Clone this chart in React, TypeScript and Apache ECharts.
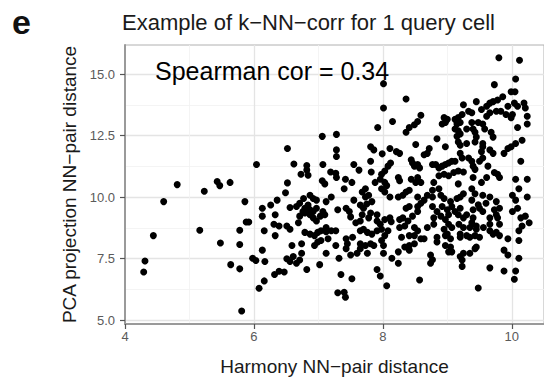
import React, { useEffect, useRef } from "react";
import * as echarts from "echarts";

const xTicks = [4, 6, 8, 10];
const xMinorGrid = [5, 7, 9];
const yTicks = [5, 7.5, 10, 12.5, 15];
const yMinorGrid = [6.25, 8.75, 11.25, 13.75];

const titleText = "Example of k\u2212NN\u2212corr for 1 query cell";
const xTitle = "Harmony NN\u2212pair distance";
const yTitle = "PCA projection NN\u2212pair distance";
const annotation = "Spearman cor = 0.34";

// [Harmony NN-pair distance, PCA projection NN-pair distance]
const pointsLeft: number[][] = [
  [4.81, 10.51], [4.6, 9.82], [4.44, 8.44], [4.31, 7.41], [4.29, 6.96], [5.23, 10.24], [5.43, 10.64],
  [5.47, 10.47], [5.63, 10.6], [5.86, 9.82], [5.16, 8.66], [5.48, 8.14], [5.78, 8.66], [5.88, 8.99],
  [5.92, 8.99], [5.78, 8.08], [5.64, 7.26], [5.78, 7.09], [5.98, 7.52], [5.81, 5.38],
];

const pointsMidUpper: number[][] = [
  [8.01, 14.61], [8.01, 13.62], [7.92, 12.83], [8.15, 13.07], [7.06, 12.47], [7.28, 12.55], [6.52, 11.98],
  [6.04, 11.33], [7.28, 11.92], [7.28, 11.65], [6.62, 11.35], [6.82, 11.29], [6.82, 11.1], [7.07, 11.33],
  [7.19, 11.02], [7.27, 10.97], [7.28, 10.8], [6.73, 10.93], [6.84, 10.89], [6.52, 10.58], [7.06, 10.67],
  [7.55, 11.33], [7.63, 11.1], [7.42, 10.73], [7.52, 10.6], [7.81, 12.05], [7.86, 11.92], [7.99, 11.76],
  [8.11, 11.98], [7.81, 11.46], [7.82, 11.02], [7.98, 10.93], [8.03, 11.06], [8.08, 11.26], [8.12, 11.39],
  [7.96, 10.73], [8.03, 10.6], [7.88, 10.6],
];

const pointsMidLower: number[][] = [
  [6.49, 10.18], [6.13, 9.55], [6.26, 9.68], [6.36, 9.88], [6.13, 9.23], [6.16, 8.64], [6.33, 9.29],
  [6.31, 8.9], [6.39, 8.83], [6.33, 8.44], [6.13, 7.85], [6.03, 7.43], [6.17, 7.39], [6.32, 6.86],
  [6.39, 6.99], [6.47, 6.96], [6.16, 6.6], [6.08, 6.3], [6.56, 9.58], [6.66, 9.62], [6.71, 9.75],
  [6.77, 9.95], [6.51, 8.83], [6.56, 8.7], [6.69, 8.96], [6.71, 9.23], [6.79, 9.36], [6.79, 9.55],
  [6.84, 9.68], [6.87, 9.49], [6.92, 9.95], [6.97, 9.88], [7.07, 9.42], [7.03, 9.23], [7.1, 9.29],
  [6.92, 9.16], [6.97, 9.03], [7.12, 9.82], [7.2, 10.01], [7.1, 10.54], [7.4, 10.34], [7.55, 9.88],
  [7.68, 10.21], [7.73, 10.01], [7.78, 10.08], [7.83, 9.82], [7.65, 9.68], [7.3, 9.49], [7.43, 9.55],
  [7.48, 9.42], [7.68, 9.29], [7.81, 9.36], [7.91, 9.29], [7.91, 9.03], [7.96, 8.9], [8.03, 9.09],
  [8.11, 9.16], [6.79, 8.57], [6.87, 8.5], [6.94, 8.44], [6.99, 8.57], [7.04, 8.64], [7.12, 8.77],
  [7.2, 8.64], [7.27, 8.64], [6.99, 8.18], [6.94, 8.04], [7.04, 8.24], [7.15, 8.31], [6.59, 8.04],
  [6.74, 8.11], [6.74, 7.72], [6.61, 7.59], [6.56, 7.39], [6.66, 7.32], [6.71, 7.45], [7.27, 8.04],
  [7.43, 8.31], [7.53, 8.37], [7.45, 8.11], [7.43, 7.91], [7.65, 8.11], [7.73, 8.04], [7.81, 8.11],
  [7.86, 8.04], [7.65, 7.91], [7.6, 7.72], [7.5, 7.65], [7.76, 7.72], [7.7, 8.7], [7.76, 8.57],
  [7.83, 8.5], [7.91, 8.64], [7.98, 8.7], [8.03, 8.44], [8.08, 8.64], [8.01, 8.04], [8.01, 7.72],
  [8.14, 7.52], [7.12, 7.72], [7.02, 7.26], [7.32, 7.52], [6.82, 7.06], [7.35, 6.86], [7.52, 6.69],
  [7.3, 6.12], [7.4, 6.14], [7.42, 5.94], [7.91, 7.06], [7.96, 6.8], [8.06, 6.4], [7.98, 10.34],
  [8.06, 10.47], [8.11, 10.01], [7.58, 8.96], [7.65, 9.03],
  [7.73, 10.34], [8.03, 10.21], [6.87, 10.08], [6.76, 9.42], [6.92, 9.42], [6.97, 9.55], [6.87, 9.29],
  [7.5, 9.2], [7.75, 9.72], [7.7, 9.55], [7.78, 9.16], [8.13, 9.0], [7.12, 8.6], [7.65, 8.64],
  [7.98, 8.24], [6.51, 7.5],
];

const pointsRightUpper: number[][] = [
  [9.8, 15.66], [10.12, 15.56], [9.73, 14.57], [10.06, 14.8], [9.99, 14.28], [10.05, 14.28], [9.86, 14.08],
  [8.36, 13.99], [9.45, 13.88], [9.71, 13.88], [9.78, 13.95], [9.25, 13.75], [9.94, 13.69], [10.04, 13.82],
  [10.09, 13.69], [10.19, 13.82], [10.21, 13.62], [9.33, 13.49], [9.38, 13.43], [9.53, 13.56], [9.61, 13.69],
  [9.66, 13.82], [8.59, 13.33], [8.54, 13.07], [8.49, 12.94], [8.41, 12.83], [8.36, 12.64], [8.95, 13.23],
  [9.0, 13.16], [8.97, 13.03], [8.92, 12.97], [9.12, 13.16], [9.17, 13.23], [9.23, 13.36], [9.15, 12.97],
  [9.2, 13.03], [9.38, 13.03], [9.48, 13.03], [9.61, 13.29], [9.66, 13.43], [9.76, 13.49], [9.83, 13.49],
  [9.91, 13.36], [9.99, 13.23], [10.01, 13.36], [10.24, 13.29], [10.24, 12.97], [10.09, 12.83], [9.12, 12.77],
  [9.17, 12.7], [9.2, 12.57], [9.15, 12.47], [9.3, 12.77], [9.4, 12.77], [9.43, 12.64], [9.45, 12.44],
  [9.55, 12.97], [9.58, 12.77], [9.68, 12.64], [9.71, 12.44], [8.84, 12.37], [8.97, 12.05], [8.51, 12.14],
  [8.72, 11.98], [8.21, 11.85], [8.26, 11.78], [9.17, 12.24], [9.2, 12.11], [9.3, 12.18], [9.43, 12.24],
  [9.55, 12.18], [9.55, 12.05], [9.53, 11.85], [9.66, 11.92], [9.71, 11.78], [9.88, 11.78], [9.94, 11.98],
  [9.99, 12.05], [10.06, 12.18], [10.16, 12.31], [8.44, 11.52], [8.46, 11.39], [8.49, 11.26], [8.54, 11.33],
  [8.57, 11.19], [8.64, 11.72], [8.69, 11.78], [8.77, 11.33], [8.82, 11.33], [8.87, 11.19], [8.92, 11.26],
  [8.97, 11.33], [9.02, 11.39], [9.07, 11.46], [9.12, 11.46], [9.2, 11.78], [9.23, 11.59], [9.33, 11.59],
  [9.38, 11.46], [9.4, 11.26], [9.43, 11.13], [9.5, 11.46], [9.55, 11.59], [10.14, 11.46], [9.78, 10.93],
  [9.73, 11.0], [9.81, 10.8], [8.24, 10.8], [8.26, 10.67], [8.44, 10.73], [8.51, 10.6], [8.54, 10.8],
  [8.79, 10.6], [8.87, 10.87], [8.95, 10.93], [9.02, 10.87], [9.1, 11.0], [9.17, 11.06], [9.25, 11.02],
  [9.4, 10.8], [9.61, 10.8], [10.06, 10.73], [10.24, 10.73],
  [9.63, 11.26], [8.59, 10.6], [9.17, 10.54], [9.53, 10.6],
];

const pointsRightLower: number[][] = [
  [8.24, 10.01], [8.36, 10.21], [8.41, 10.28], [8.69, 10.08], [8.64, 9.88], [8.77, 10.28], [8.87, 10.34],
  [9.38, 10.34], [9.43, 10.14], [9.55, 10.08], [9.66, 10.01], [8.9, 10.08], [8.95, 9.95], [9.05, 9.82],
  [9.15, 9.95], [9.25, 10.14], [10.06, 9.88], [10.01, 10.08], [10.11, 10.34], [10.24, 10.01], [8.41, 9.62],
  [8.54, 9.62], [8.59, 9.75], [8.54, 9.42], [8.77, 9.62], [8.84, 9.42], [8.92, 9.62], [9.0, 9.49],
  [9.07, 9.62], [9.12, 9.42], [9.2, 9.55], [9.17, 9.29], [9.4, 9.49], [9.5, 9.55], [9.55, 9.42],
  [9.73, 9.49], [9.81, 9.55], [10.01, 9.42], [10.09, 9.55], [8.26, 9.09], [8.31, 9.16], [8.39, 9.03],
  [8.46, 9.23], [8.79, 9.16], [8.9, 9.23], [8.97, 9.09], [9.25, 9.16], [9.3, 9.29], [9.38, 8.96],
  [9.78, 9.16], [9.81, 8.9], [10.14, 9.16], [10.21, 9.23], [10.27, 8.96], [10.16, 8.83], [8.26, 8.77],
  [8.34, 8.83], [8.95, 8.7], [9.25, 8.77], [9.35, 8.77], [9.45, 8.7], [9.66, 8.64], [9.71, 8.5],
  [9.81, 8.44], [9.94, 8.31], [10.11, 8.64], [8.41, 8.44], [8.54, 8.64], [8.64, 8.31], [8.84, 8.37],
  [9.0, 8.5], [9.05, 8.31], [9.2, 8.5], [9.35, 8.37], [9.5, 8.37], [10.11, 8.24], [8.24, 7.78],
  [8.41, 8.04], [8.49, 8.11], [8.74, 7.65], [8.84, 8.18], [8.97, 8.04], [9.02, 7.78], [9.25, 7.72],
  [9.35, 7.72], [9.43, 7.91], [9.88, 7.85], [9.94, 7.65], [10.11, 7.52], [8.24, 7.32], [8.74, 7.32],
  [9.23, 7.45], [9.23, 7.19], [9.66, 7.13], [9.88, 7.0], [10.06, 7.0], [8.57, 6.64], [10.04, 6.67],
  [9.48, 6.31],
  [8.54, 10.01], [8.31, 10.08], [8.77, 10.01], [9.38, 9.88], [9.48, 9.69], [9.6, 9.75], [9.76, 9.82],
  [9.2, 10.01], [8.36, 9.55], [9.02, 9.29], [9.4, 9.16], [9.66, 9.16], [9.76, 9.29], [8.49, 8.77],
  [8.69, 8.77], [8.79, 8.9], [9.02, 8.9], [9.07, 8.77], [9.18, 8.9], [9.45, 8.83], [9.56, 8.77],
  [9.66, 8.9], [9.76, 8.57], [8.29, 8.37], [8.49, 8.44], [8.59, 8.31], [8.97, 8.44], [9.05, 7.98],
  [9.2, 8.37], [9.3, 8.44], [9.43, 8.44], [9.45, 7.98], [8.34, 7.98], [8.41, 7.85], [8.77, 7.46],
  [9.07, 7.78], [9.2, 7.59],
];

export default function App() {
  const ref = useRef<HTMLDivElement>(null);
  useEffect(() => {
    const chart = echarts.init(ref.current!, null, { renderer: "svg" });
    const font = "'Liberation Sans', Arial, Helvetica, sans-serif";
    const allPoints = [
      ...pointsLeft,
      ...pointsMidUpper,
      ...pointsMidLower,
      ...pointsRightUpper,
      ...pointsRightLower,
    ];
    const majorStyle = { color: "#e4e4e4", width: 1.3, type: "solid" };
    const minorStyle = { color: "#f1f1f1", width: 0.8, type: "solid" };
    chart.setOption({
      animation: false,
      backgroundColor: "#ffffff",
      textStyle: { fontFamily: font },
      grid: {
        left: 125,
        top: 45,
        width: 427,
        height: 287,
        show: true,
        borderColor: "#b0b0b0",
        borderWidth: 1,
        backgroundColor: "transparent",
      },
      xAxis: {
        type: "value",
        min: 4,
        max: 10.5,
        name: xTitle,
        nameLocation: "middle",
        nameGap: 33,
        nameTextStyle: { fontSize: 19, color: "#1a1a1a", fontFamily: font },
        axisLine: { show: true, onZero: false, lineStyle: { color: "#9a9a9a", width: 2 } },
        axisTick: { show: true, length: 5, lineStyle: { color: "#555", width: 1.2 }, customValues: xTicks },
        axisLabel: {
          customValues: xTicks,
          fontSize: 13,
          color: "#5a5a5a",
          margin: 6,
          fontFamily: font,
          formatter: (v: number) => String(v),
        },
        splitLine: { show: false },
        z: 4,
      },
      yAxis: {
        type: "value",
        min: 4.85,
        max: 16.18,
        name: yTitle,
        nameLocation: "middle",
        nameGap: 46,
        nameRotate: 90,
        nameTextStyle: { fontSize: 19, color: "#1a1a1a", fontFamily: font },
        axisLine: { show: true, onZero: false, lineStyle: { color: "#9a9a9a", width: 2 } },
        axisTick: { show: true, length: 5, lineStyle: { color: "#555", width: 1.2 }, customValues: yTicks },
        axisLabel: {
          customValues: yTicks,
          fontSize: 13,
          color: "#5a5a5a",
          margin: 10,
          fontFamily: font,
          formatter: (v: number) => v.toFixed(1),
        },
        splitLine: { show: false },
        z: 4,
      },
      graphic: [
        {
          type: "text",
          x: 12,
          y: 22,
          style: { text: "e", fontSize: 34, fontWeight: "bold", fontFamily: font, fill: "#111", verticalAlign: "middle" },
        },
        {
          type: "text",
          x: 122,
          y: 22,
          style: { text: titleText, fontSize: 22, fontFamily: font, fill: "#1a1a1a", verticalAlign: "middle" },
        },
        {
          type: "text",
          x: 155,
          y: 71,
          z: 10,
          style: { text: annotation, fontSize: 25, fontFamily: font, fill: "#000", verticalAlign: "middle" },
        },
      ],
      series: [
        {
          type: "scatter",
          data: [],
          z: 1,
          silent: true,
          markLine: {
            silent: true,
            z: 1,
            symbol: ["none", "none"],
            label: { show: false },
            emphasis: { disabled: true },
            data: [
              ...yTicks.map((v) => ({ yAxis: v, lineStyle: majorStyle })),
              ...yMinorGrid.map((v) => ({ yAxis: v, lineStyle: minorStyle })),
              ...xTicks.filter((v) => v > 4).map((v) => ({ xAxis: v, lineStyle: majorStyle })),
              ...xMinorGrid.map((v) => ({ xAxis: v, lineStyle: minorStyle })),
            ],
          },
        },
        {
          type: "scatter",
          data: allPoints,
          symbol: "circle",
          symbolSize: 7,
          itemStyle: { color: "#000", opacity: 1 },
          z: 5,
          silent: true,
        },
      ],
    });
    return () => chart.dispose();
  }, []);
  return <div ref={ref} style={{ width: 544, height: 381, position: "absolute", left: 0, top: 0 }} />;
}
